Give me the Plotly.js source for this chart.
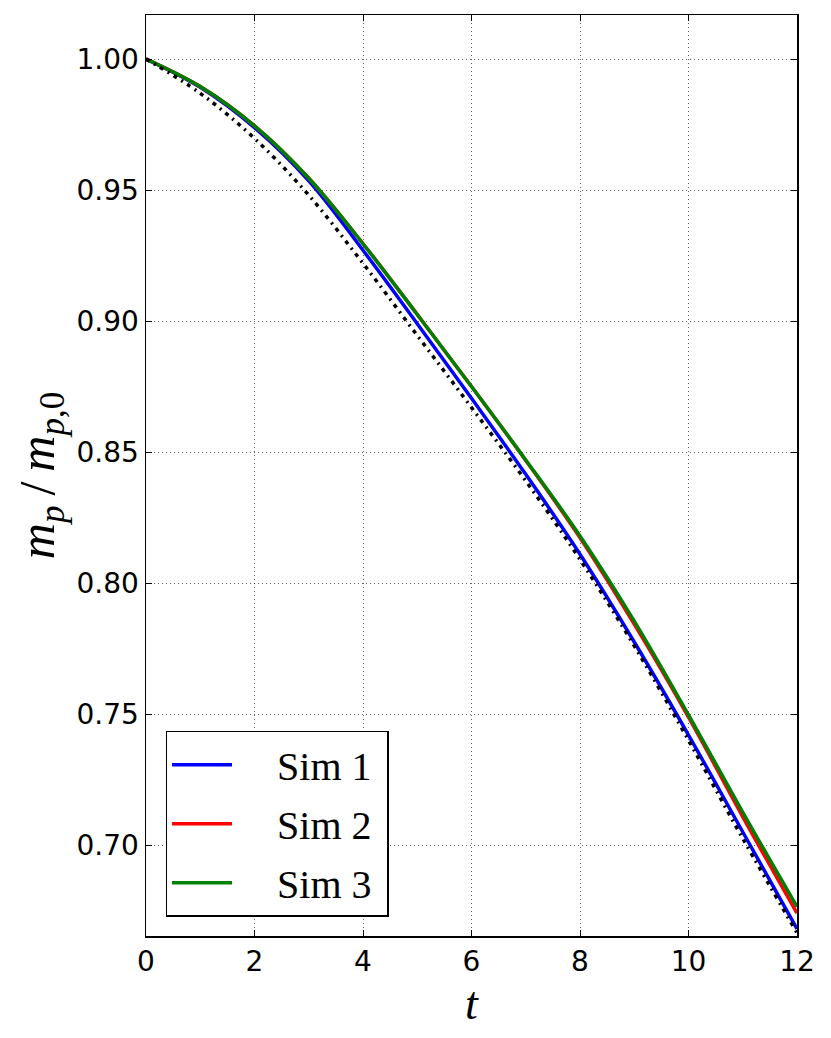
<!DOCTYPE html>
<html>
<head>
<meta charset="utf-8">
<script src="https://cdn.plot.ly/plotly-3.0.1.min.js"></script>
<style>
  body { margin: 0; background: white; }
  #mass-plot { width: 831px; height: 1038px; }
</style>
</head>
<body>
<div id="mass-plot"></div>
<script>
const t = [0, 1, 2, 3, 4, 5, 6, 7, 8, 9, 10, 11, 12];
const sim1 = [1.0, 0.9892, 0.9738, 0.9535, 0.9270, 0.8990, 0.8705, 0.8415, 0.8110, 0.7775, 0.7420, 0.7050, 0.6680];
const sim2 = [1.0, 0.9895, 0.9745, 0.9545, 0.9295, 0.9025, 0.8750, 0.8468, 0.8173, 0.7843, 0.7488, 0.7108, 0.6740];
const sim3 = [1.0, 0.9895, 0.9745, 0.9545, 0.9295, 0.9025, 0.8750, 0.8470, 0.8180, 0.7855, 0.7497, 0.7125, 0.6765];
const reference = [1.0, 0.9869, 0.9697, 0.9480, 0.9220, 0.8945, 0.8670, 0.8390, 0.8090, 0.7760, 0.7400, 0.7025, 0.6665];
const seriesNames = ['Sim 1', 'Sim 2', 'Sim 3'];
const xTicks = [0, 2, 4, 6, 8, 10, 12];
const yTicks = [0.70, 0.75, 0.80, 0.85, 0.90, 0.95, 1.00];

function simTrace(y, name, color) {
    return {
        x: t,
        y: y,
        name: '\u00a0\u00a0\u00a0\u00a0' + name + '\u00a0',
        legendgroup: name,
        mode: 'lines',
        line: {width: 3.5, color: color, shape: 'spline', smoothing: 1}
    };
}

const data = [
    simTrace(sim1, seriesNames[0], '#0000ff'),
    simTrace(sim2, seriesNames[1], '#ff0000'),
    simTrace(sim3, seriesNames[2], '#008000'),
    {
        x: t,
        y: reference,
        mode: 'lines',
        showlegend: false,
        line: {width: 3.5, color: 'black', dash: '4px,5px,2px,5px', shape: 'spline', smoothing: 1}
    }
];

const axisStyle = {
    linecolor: 'black',
    linewidth: 1.5,
    mirror: 'ticks',
    showline: true,
    ticks: 'inside',
    ticklen: 6,
    tickcolor: 'black',
    gridcolor: 'rgba(0,0,0,0.6)',
    griddash: '1px,3px',
    gridwidth: 1,
    zeroline: false,
    automargin: false,
    tickfont: {size: 28, family: 'DejaVu Sans', color: 'black'}
};

const layout = {
    xaxis: Object.assign({}, axisStyle, {
        range: [0, 12],
        tickvals: xTicks,
        title: {
            text: '<i>t</i>',
            standoff: 2,
            font: {size: 46, family: 'Liberation Serif', color: 'black'}
        }
    }),
    yaxis: Object.assign({}, axisStyle, {
        range: [0.6653, 1.0168],
        tickvals: yTicks,
        tickformat: '.2f',
        title: {
            text: '<i>m</i><sub><i>p</i></sub>\u2009/\u2009<i>m</i><sub><i>p</i>,0</sub>',
            standoff: 6,
            font: {size: 50, family: 'Liberation Serif', color: 'black'}
        }
    }),
    legend: {
        x: 0.030,
        y: 0.021,
        xanchor: 'left',
        yanchor: 'bottom',
        bgcolor: 'white',
        bordercolor: 'black',
        borderwidth: 1.5,
        traceorder: 'grouped',
        tracegroupgap: 4,
        itemwidth: 60,
        font: {size: 40, family: 'Liberation Serif', color: 'black'}
    },
    showlegend: true,
    autosize: false,
    width: 831,
    height: 1038,
    paper_bgcolor: 'white',
    plot_bgcolor: 'white',
    margin: {l: 146, r: 34, t: 15, b: 102}
};

Plotly.newPlot('mass-plot', data, layout, {displayModeBar: false, staticPlot: true});
</script>
</body>
</html>
